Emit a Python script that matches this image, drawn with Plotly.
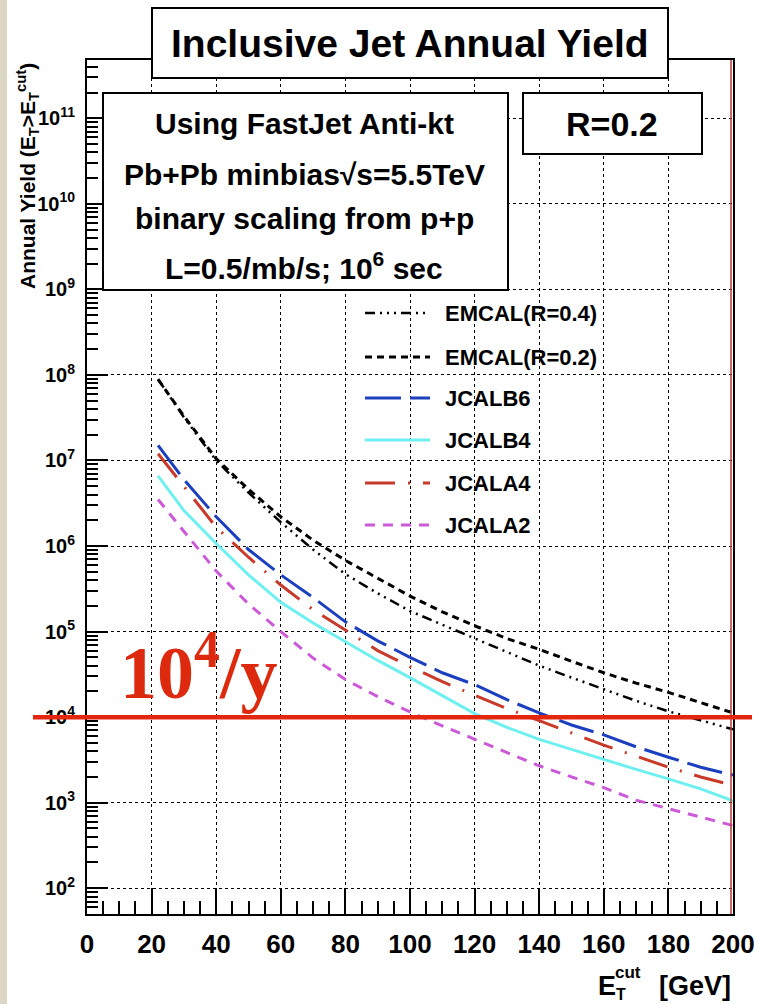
import math
import plotly.graph_objects as go

# ---------------- data ----------------
et_cut = [22, 30, 40, 50, 60, 70, 80, 90, 100, 110, 120, 130, 140, 150, 160, 170, 180, 190, 200]

emcal_r04 = [8.9e7, 3.2e7, 1.0e7, 4.2e6, 1.9e6, 9.1e5, 4.7e5, 2.8e5, 1.74e5, 1.2e5,
             8.3e4, 5.8e4, 4.0e4, 2.9e4, 2.1e4, 1.55e4, 1.17e4, 9.1e3, 7.2e3]
emcal_r02 = [8.9e7, 3.3e7, 1.05e7, 4.6e6, 2.2e6, 1.17e6, 6.8e5, 4.2e5, 2.6e5, 1.7e5,
             1.17e5, 8.3e4, 6.2e4, 4.5e4, 3.3e4, 2.5e4, 1.95e4, 1.48e4, 1.12e4]
jcalb6 = [1.5e7, 6.0e6, 2.2e6, 9.1e5, 4.6e5, 2.5e5, 1.3e5, 7.8e4, 5.0e4, 3.3e4,
          2.4e4, 1.6e4, 1.12e4, 8.1e3, 6.2e3, 4.5e3, 3.4e3, 2.6e3, 2.1e3]
jcalb4 = [6.6e6, 2.6e6, 1.07e6, 4.6e5, 2.2e5, 1.26e5, 7.6e4, 4.6e4, 2.9e4, 1.8e4,
          1.1e4, 7.6e3, 5.5e3, 4.2e3, 3.2e3, 2.45e3, 1.9e3, 1.45e3, 1.05e3]
jcala4 = [1.2e7, 5.0e6, 1.66e6, 7.4e5, 3.5e5, 1.8e5, 1.05e5, 6.0e4, 3.9e4, 2.6e4,
          1.8e4, 1.26e4, 9.1e3, 6.5e3, 4.7e3, 3.5e3, 2.6e3, 2.0e3, 1.6e3]
jcala2 = [3.5e6, 1.5e6, 5.1e5, 2.1e5, 1.0e5, 4.9e4, 2.75e4, 1.74e4, 1.15e4, 7.9e3,
          5.5e3, 3.8e3, 2.7e3, 2.0e3, 1.5e3, 1.07e3, 850, 680, 540]

series_names = ["EMCAL(R=0.4)", "EMCAL(R=0.2)", "JCALB6", "JCALB4", "JCALA4", "JCALA2"]
series_values = [emcal_r04, emcal_r02, jcalb6, jcalb4, jcala4, jcala2]

x_ticks = [0, 20, 40, 60, 80, 100, 120, 140, 160, 180, 200]
y_exponents = [2, 3, 4, 5, 6, 7, 8, 9, 10, 11]
threshold = 1e4

# ---------------- styles ----------------
styles = [
    dict(color="black", width=2.5, dash="10px,5px,2px,5px,2px,5px,2px,5px"),
    dict(color="black", width=3, dash="7px,5px"),
    dict(color="#1c3fc0", width=3, dash="36px,9px"),
    dict(color="#6ff0f0", width=3, dash="solid"),
    dict(color="#c83a2a", width=3, dash="30px,13px,2px,13px"),
    dict(color="#cc5ad8", width=3, dash="10px,8px"),
]

W, H = 760, 1004
PL, PR, PT, PB = 87, 733, 60, 914
YLOG = [math.log10(50), math.log10(4.8e11)]


def xp(px):
    return (px - PL) / (PR - PL)


def yp(py):
    return (PB - py) / (PB - PT)


FONT = "Liberation Sans, Arial, sans-serif"

fig = go.Figure()
for name, vals, st in zip(series_names, series_values, styles):
    fig.add_trace(go.Scatter(x=et_cut, y=vals, mode="lines", name=name,
                             line=st, showlegend=False))

shapes = []
annotations = []

# beige strip at left edge
shapes.append(dict(type="rect", xref="paper", yref="paper", x0=xp(0), x1=xp(7),
                   y0=yp(H), y1=yp(0), fillcolor="#dcd6c5", line=dict(width=0),
                   layer="below"))

# right border red tint
shapes.append(dict(type="line", xref="paper", yref="paper", x0=xp(731), x1=xp(731),
                   y0=yp(PB), y1=yp(PT), line=dict(color="#b83a3a", width=1.5)))


def box(x0, y0, x1, y1):
    shapes.append(dict(type="rect", xref="paper", yref="paper", x0=xp(x0), x1=xp(x1),
                       y0=yp(y1), y1=yp(y0), fillcolor="white",
                       line=dict(color="black", width=2), layer="above"))


def text(px, py, s, size, xanchor="center", color="black", family=FONT, angle=0,
         yanchor="middle"):
    annotations.append(dict(xref="paper", yref="paper", x=xp(px), y=yp(py), text=s,
                            showarrow=False, xanchor=xanchor, yanchor=yanchor,
                            textangle=angle,
                            font=dict(size=size, color=color, family=family)))


# title box
box(152, 8, 668, 78)
text(410, 44, "<b>Inclusive Jet Annual Yield</b>", 39)

# info box
box(103, 93, 508, 290)
text(304, 124, "<b>Using FastJet Anti-kt</b>", 30)
text(304, 174, "<b>Pb+Pb minbias√s=5.5TeV</b>", 30)
text(304, 218, "<b>binary scaling from p+p</b>", 30)
text(304, 266, "<b>L=0.5/mb/s; 10<sup>6</sup> sec</b>", 30)

# R box
box(523, 93, 702, 154)
text(612, 124, "<b>R=0.2</b>", 34)

# legend (manual)
leg_rows = [313, 357, 398, 440, 483, 525]
for name, st, py in zip(series_names, styles, leg_rows):
    shapes.append(dict(type="line", xref="paper", yref="paper", x0=xp(365), x1=xp(430),
                       y0=yp(py), y1=yp(py), line=st))
    text(443, py, "<b>" + name + "</b>", 22, xanchor="left")

# threshold line at 1e4 / year
y_thr = (math.log10(threshold) - YLOG[0]) / (YLOG[1] - YLOG[0])
shapes.append(dict(type="line", xref="paper", yref="paper", x0=xp(33), x1=xp(752),
                   y0=y_thr, y1=y_thr, line=dict(color="#e3260c", width=4.5)))
text(118, 667, "<b>10<sup>4</sup>/y</b>", 74, xanchor="left", color="#dd2a0e",
     family="Liberation Serif, Times New Roman, serif")

# y title
text(27, 176, "<b>Annual Yield (E<sub>T</sub>>E<sub>T</sub><sup>cut</sup>)</b>", 21,
     angle=-90)

# x title (stacked sub/sup)
text(733, 986, "<b>[GeV]</b>", 27, xanchor="right")
text(596, 986, "<b>E</b>", 27, xanchor="left")
text(613, 972, "<b>cut</b>", 17, xanchor="left")
text(614, 994, "<b>T</b>", 16, xanchor="left")

minor_y = [k * 10 ** n for n in range(1, 12) for k in range(2, 10)]

fig.update_layout(
    width=W, height=H, autosize=False,
    margin=dict(l=PL, r=W - PR, t=PT, b=H - PB, pad=0, autoexpand=False),
    paper_bgcolor="white", plot_bgcolor="white",
    shapes=shapes, annotations=annotations,
    showlegend=False,
    xaxis=dict(
        range=[0, 200], tickmode="array", tickvals=x_ticks,
        ticktext=["<b>%d</b>" % v for v in x_ticks],
        tickfont=dict(size=26, family=FONT, color="black"),
        ticks="inside", ticklen=26, tickwidth=2, tickcolor="black",
        ticklabelstandoff=6, automargin=False,
        showline=True, linecolor="black", linewidth=2, mirror=True,
        showgrid=True, gridcolor="black", griddash="dot", gridwidth=1,
        zeroline=False,
        minor=dict(dtick=5, tick0=0, ticks="inside", ticklen=13, tickwidth=2,
                   tickcolor="black", showgrid=False),
    ),
    yaxis=dict(
        type="log", range=YLOG, tickmode="array",
        tickvals=[10 ** e for e in y_exponents],
        ticktext=["<b>10<sup>%d</sup></b>" % e for e in y_exponents],
        tickfont=dict(size=20, family=FONT, color="black"),
        ticks="inside", ticklen=21, tickwidth=2, tickcolor="black",
        ticklabelstandoff=6, automargin=False,
        showline=True, linecolor="black", linewidth=2, mirror=True,
        showgrid=True, gridcolor="black", griddash="dot", gridwidth=1,
        zeroline=False,
        minor=dict(tickmode="array", tickvals=minor_y, ticks="inside", ticklen=11,
                   tickwidth=2, tickcolor="black", showgrid=False),
    ),
)

fig.write_html("out.html",
               config={"displayModeBar": False, "responsive": False},
               post_script="document.body.style.margin='0px';"
                           "document.body.style.overflow='hidden';")
